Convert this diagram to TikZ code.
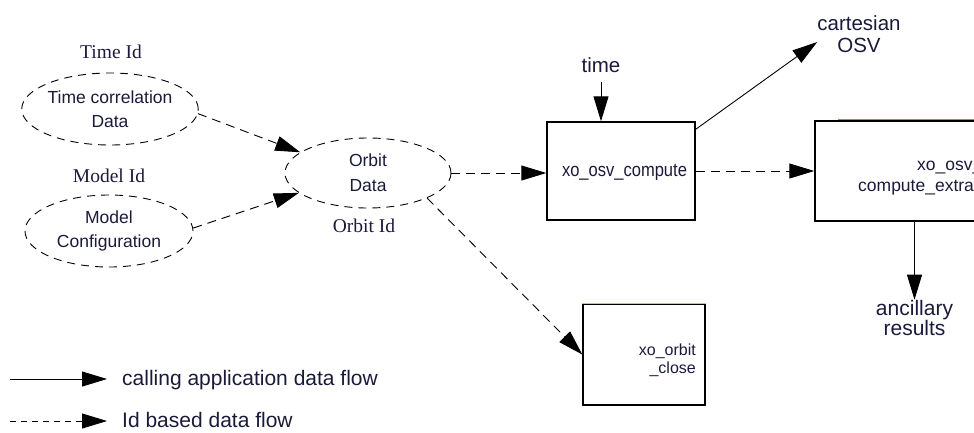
\documentclass[tikz,border=0pt]{standalone}
\usepackage{fontspec}
\setmainfont{Liberation Serif}
\setsansfont{Liberation Sans}
\newfontfamily\condsans[FakeStretch=0.87]{Liberation Sans}
\usetikzlibrary{arrows.meta,shapes.geometric,calc}
\definecolor{txt}{HTML}{1A1A3A}
\definecolor{orangeline}{HTML}{D9714F}
\definecolor{greenline}{HTML}{7FE3A6}
\tikzset{
  dataell/.style={ellipse, draw, dash pattern=on 8pt off 6pt, line width=0.9pt, inner sep=0pt, align=center, text=txt},
  funcbox/.style={rectangle, draw, line width=1.4pt, inner sep=0pt},
  idlabel/.style={font=\rmfamily\fontsize{19.5}{22}\selectfont, text=txt, inner sep=0pt, anchor=base},
  outlabel/.style={font=\sffamily\fontsize{20.5}{22}\selectfont, align=center, text=txt, inner sep=0pt},
  functext/.style={font=\sffamily\fontsize{17.5}{21}\selectfont, text=txt, inner sep=0pt},
  legtext/.style={font=\sffamily\fontsize{21}{24}\selectfont, text=txt, inner sep=0pt, anchor=base west},
  head/.style={-{Triangle[length=25pt,width=15pt]}},
  callflow/.style={head, line width=0.9pt},
  idflow/.style={head, line width=0.9pt, dash pattern=on 9pt off 6pt},
}
\begin{document}
\begin{tikzpicture}[x=1pt,y=-1pt]
\useasboundingbox (0,0) rectangle (974,432);
\clip (0,0) rectangle (974,432);

% data ellipses
\node[dataell, minimum width=170pt, minimum height=72pt, font=\sffamily\fontsize{17.5}{23.5}\selectfont] (tc) at (110,109) {Time correlation\\Data};
\node[dataell, minimum width=168pt, minimum height=72pt, font=\sffamily\fontsize{17.5}{23.5}\selectfont] (mc) at (109,231) {Model\\Configuration};
\node[dataell, minimum width=166pt, minimum height=70pt, font=\sffamily\fontsize{17.5}{25}\selectfont] (orbit) at (368,173) {Orbit\\Data};

% id labels
\node[idlabel] (tid) at (111,58) {Time Id};
\node[idlabel] (mid) at (109,182) {Model Id};
\node[idlabel] (oid) at (364,232) {Orbit Id};

% function boxes
\node[funcbox, minimum width=148pt, minimum height=98pt] (compute) at (621,171) {};
\node[font=\condsans\fontsize{19}{21}\selectfont, text=txt, inner sep=0pt] (computetxt) at (624.5,172) {xo\_osv\_compute};

\node[funcbox, minimum width=285pt, minimum height=100pt] (extra) at (957.5,171) {};
\draw[orangeline, line width=1.6pt] ([xshift=24pt,yshift=1pt]extra.north west) -- ([yshift=1pt]extra.north east);
\node[functext, anchor=base west] (extratxt1) at (917,170) {xo\_osv\_};
\node[functext, anchor=base west] (extratxt2) at (858,191) {compute\_extra};

\node[funcbox, minimum width=122pt, minimum height=101pt] (close) at (644,354.5) {};
\draw[greenline, line width=1.6pt] (close.north west) -- (close.north east);
\node[font=\sffamily\fontsize{16}{18}\selectfont, text=txt, inner sep=0pt, align=right, anchor=north east] (closetxt) at (696,343.3) {xo\_orbit\\\_close};

% output / input labels
\node[outlabel] (time) at (601,65) {time};
\node[outlabel, anchor=north] (cart) at (859,15.3) {cartesian\\OSV};
\node[font=\sffamily\fontsize{21}{20}\selectfont, align=center, text=txt, inner sep=0pt, anchor=north] (anc) at (914.5,299.7) {ancillary\\results};

% id based flows
\draw[idflow] (tc.-3) -- (orbit.163.6);
\draw[idflow] (mc.2) -- (orbit.196.4);
\draw[idflow] (orbit.east) -- (orbit.east -| compute.west);
\draw[idflow] (orbit.-23.5) -- (close.west);
\draw[idflow] (compute.east) -- (extra.west);

% calling application flows
\draw[callflow] ([yshift=-9pt]time.south) -- (time.south |- compute.north);
\draw[callflow] ([yshift=-8pt]compute.north east) -- ([yshift=-8pt]cart.west);
\draw[callflow] (anc.north |- extra.south) -- (anc.north);

% legend
\coordinate (l1) at (10,379);
\node[legtext] (leg1) at (122,385) {calling application data flow};
\draw[callflow] (l1) -- ($(l1 -| leg1.west)+(-15pt,0)$);
\coordinate (l2) at (10,421);
\node[legtext] (leg2) at (122,427) {Id based data flow};
\draw[head, line width=0.9pt, dash pattern=on 6pt off 5pt] (l2) -- ($(l2 -| leg2.west)+(-15pt,0)$);
\end{tikzpicture}
\end{document}
